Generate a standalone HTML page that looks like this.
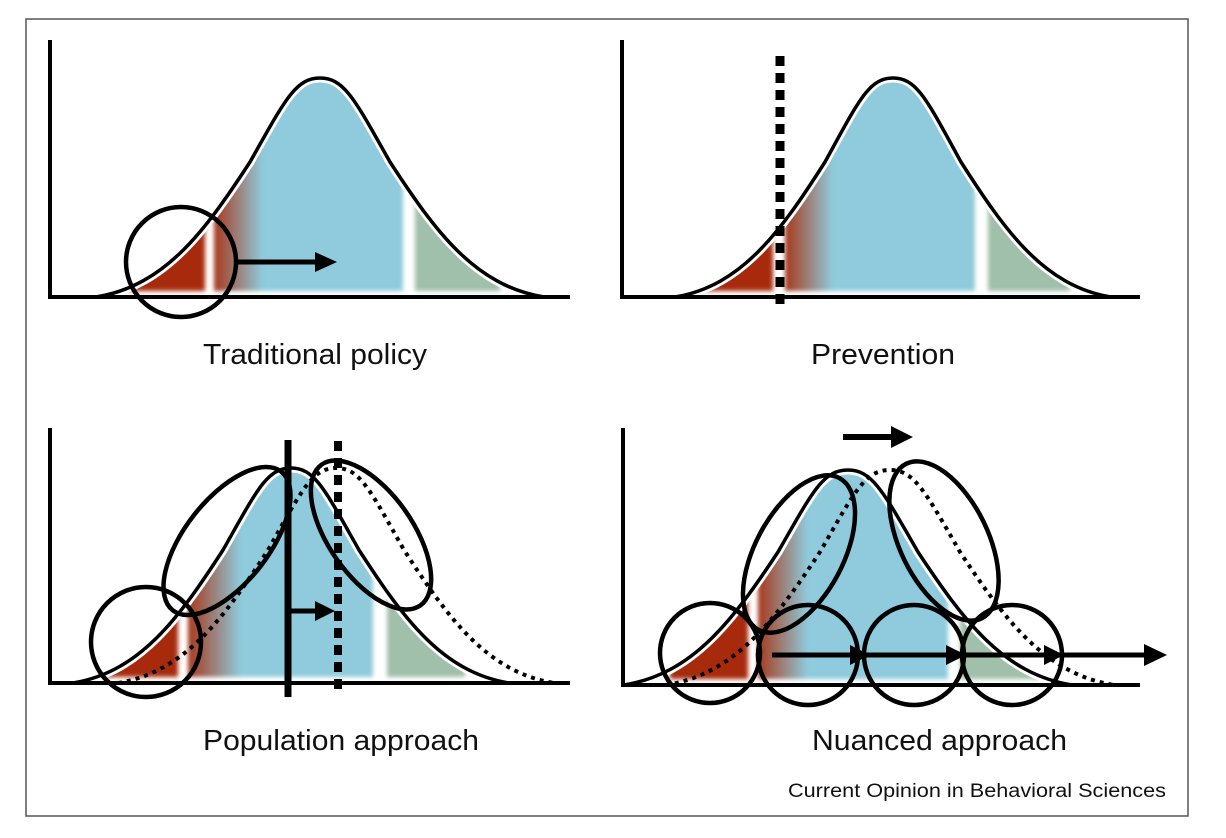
<!DOCTYPE html>
<html><head><meta charset="utf-8"><style>
html,body{margin:0;padding:0;background:#fff;}
svg{display:block;}
text{font-family:"Liberation Sans",Arial,sans-serif;fill:#111;}
</style></head><body>
<svg width="1226" height="838" viewBox="0 0 1226 838" xmlns="http://www.w3.org/2000/svg">
<defs>
<linearGradient id="rb" x1="0" y1="0" x2="1" y2="0"><stop offset="0" stop-color="#a8391c"/><stop offset="1" stop-color="#8fcbdc"/></linearGradient>
<filter id="bl" x="-5%" y="-5%" width="110%" height="110%"><feGaussianBlur stdDeviation="2"/></filter>
<clipPath id="c1"><path d="M96,297 C165,286 205,231 250,162 C285,100 295.5,78 320,78 C344.5,78 355,100 390,162 C435,231 475,286 544,297Z"/></clipPath>
<clipPath id="c2"><path d="M675,297 C742,286 781,231 825,162 C859,100 869,78 893,78 C917,78 927,100 961,162 C1005,231 1044,286 1111,297Z"/></clipPath>
<clipPath id="c3"><path d="M73,683 C140,672 179,618 223,550 C257,490 267,468 291,468 C315,468 325,490 359,550 C403,618 442,672 509,683Z"/></clipPath>
<clipPath id="c4"><path d="M624,685 C693,674 733,620 778,552 C813,491 823,470 848,470 C872,470 883,491 918,552 C963,620 1003,674 1072,685Z"/></clipPath>
</defs>
<rect x="26" y="19" width="1162" height="797" fill="none" stroke="#555" stroke-width="1.5"/>

<!-- Panel 1 -->
<g clip-path="url(#c1)"><g filter="url(#bl)">
<rect x="120" y="60" width="85" height="231" fill="#a82a08"/>
<rect x="214" y="60" width="49" height="231" fill="url(#rb)"/>
<rect x="262" y="60" width="141" height="231" fill="#8fcbdc"/>
<rect x="415" y="60" width="85" height="231" fill="#a0c0ab"/>
</g></g>
<path d="M96,297 C165,286 205,231 250,162 C285,100 295.5,78 320,78 C344.5,78 355,100 390,162 C435,231 475,286 544,297" fill="none" stroke="#fff" stroke-width="9"/>
<path d="M96,297 C165,286 205,231 250,162 C285,100 295.5,78 320,78 C344.5,78 355,100 390,162 C435,231 475,286 544,297" fill="none" stroke="#000" stroke-width="3.5"/>
<path d="M50,40 V297 H570" fill="none" stroke="#000" stroke-width="4"/>
<circle cx="181" cy="262" r="55" fill="none" stroke="#000" stroke-width="4.5"/>
<line x1="236" y1="262" x2="318" y2="262" stroke="#000" stroke-width="5"/>
<polygon points="315,252 337,262 315,272" fill="#000"/>
<text x="203" y="364" font-size="29" textLength="224" lengthAdjust="spacingAndGlyphs">Traditional policy</text>

<!-- Panel 2 -->
<g clip-path="url(#c2)"><g filter="url(#bl)">
<rect x="690" y="60" width="83" height="231" fill="#a82a08"/>
<rect x="785" y="60" width="48" height="231" fill="url(#rb)"/>
<rect x="832" y="60" width="143" height="231" fill="#8fcbdc"/>
<rect x="988" y="60" width="82" height="231" fill="#a0c0ab"/>
</g></g>
<path d="M675,297 C742,286 781,231 825,162 C859,100 869,78 893,78 C917,78 927,100 961,162 C1005,231 1044,286 1111,297" fill="none" stroke="#fff" stroke-width="9"/>
<path d="M675,297 C742,286 781,231 825,162 C859,100 869,78 893,78 C917,78 927,100 961,162 C1005,231 1044,286 1111,297" fill="none" stroke="#000" stroke-width="3.5"/>
<path d="M622,40 V297 H1140" fill="none" stroke="#000" stroke-width="4"/>
<line x1="780" y1="56" x2="780" y2="308" stroke="#000" stroke-width="9" stroke-dasharray="10,7"/>
<text x="811" y="364" font-size="29" textLength="144" lengthAdjust="spacingAndGlyphs">Prevention</text>

<!-- Panel 3 -->
<g clip-path="url(#c3)"><g filter="url(#bl)">
<rect x="100" y="440" width="78" height="237" fill="#a82a08"/>
<rect x="188" y="440" width="53" height="237" fill="url(#rb)"/>
<rect x="240" y="440" width="133" height="237" fill="#8fcbdc"/>
<rect x="387" y="440" width="78" height="237" fill="#a0c0ab"/>
</g></g>
<path d="M73,683 C140,672 179,618 223,550 C257,490 267,468 291,468 C315,468 325,490 359,550 C403,618 442,672 509,683" fill="none" stroke="#fff" stroke-width="9"/>
<path d="M73,683 C140,672 179,618 223,550 C257,490 267,468 291,468 C315,468 325,490 359,550 C403,618 442,672 509,683" fill="none" stroke="#000" stroke-width="3.5"/>
<path d="M118,683 C185,672 224,618 268,550 C302,490 312,468 336,468 C360,468 370,490 404,550 C448,618 487,672 554,683" fill="none" stroke="#000" stroke-width="4" stroke-dasharray="4,5"/>
<path d="M50,428 V683 H570" fill="none" stroke="#000" stroke-width="4"/>
<line x1="288" y1="440" x2="288" y2="697" stroke="#000" stroke-width="7"/>
<line x1="338" y1="441" x2="338" y2="695" stroke="#000" stroke-width="8" stroke-dasharray="10,7"/>
<line x1="290" y1="611" x2="318" y2="611" stroke="#000" stroke-width="5"/>
<polygon points="315,601 335,611 315,621" fill="#000"/>
<circle cx="146" cy="642" r="55" fill="none" stroke="#000" stroke-width="4.5"/>
<ellipse cx="227" cy="541" rx="42" ry="88" transform="rotate(38 227 541)" fill="none" stroke="#000" stroke-width="4.5"/>
<ellipse cx="371" cy="535" rx="42" ry="86" transform="rotate(-35 371 535)" fill="none" stroke="#000" stroke-width="4.5"/>
<text x="203" y="750" font-size="29" textLength="276" lengthAdjust="spacingAndGlyphs">Population approach</text>

<!-- Panel 4 -->
<g clip-path="url(#c4)"><g filter="url(#bl)">
<rect x="670" y="440" width="78" height="239" fill="#a82a08"/>
<rect x="758" y="440" width="50" height="239" fill="url(#rb)"/>
<rect x="806" y="440" width="142" height="239" fill="#8fcbdc"/>
<rect x="960" y="440" width="80" height="239" fill="#a0c0ab"/>
</g></g>
<path d="M624,685 C693,674 733,620 778,552 C813,491 823,470 848,470 C872,470 883,491 918,552 C963,620 1003,674 1072,685" fill="none" stroke="#fff" stroke-width="9"/>
<path d="M624,685 C693,674 733,620 778,552 C813,491 823,470 848,470 C872,470 883,491 918,552 C963,620 1003,674 1072,685" fill="none" stroke="#000" stroke-width="3.5"/>
<path d="M666,685 C735,674 775,620 820,552 C855,491 865,470 890,470 C914,470 925,491 960,552 C1005,620 1045,674 1114,685" fill="none" stroke="#000" stroke-width="4" stroke-dasharray="4,5"/>
<path d="M623,428 V685 H1140" fill="none" stroke="#000" stroke-width="4"/>
<circle cx="710" cy="653" r="50" fill="none" stroke="#000" stroke-width="4.5"/>
<circle cx="808" cy="655" r="50" fill="none" stroke="#000" stroke-width="4.5"/>
<circle cx="914" cy="655" r="50" fill="none" stroke="#000" stroke-width="4.5"/>
<circle cx="1012" cy="655" r="50" fill="none" stroke="#000" stroke-width="4.5"/>
<ellipse cx="799" cy="554" rx="44" ry="86" transform="rotate(28 799 554)" fill="none" stroke="#000" stroke-width="4.5"/>
<ellipse cx="944" cy="541" rx="44" ry="86" transform="rotate(-26 944 541)" fill="none" stroke="#000" stroke-width="4.5"/>
<line x1="772" y1="655" x2="1150" y2="655" stroke="#000" stroke-width="5"/>
<polygon points="850,645 870,655 850,665" fill="#000"/>
<polygon points="946,645 966,655 946,665" fill="#000"/>
<polygon points="1044,645 1064,655 1044,665" fill="#000"/>
<polygon points="1144,644 1167,655 1144,666" fill="#000"/>
<line x1="843" y1="437" x2="895" y2="437" stroke="#000" stroke-width="6"/>
<polygon points="891,426 913,437 891,448" fill="#000"/>
<text x="812" y="750" font-size="29" textLength="255" lengthAdjust="spacingAndGlyphs">Nuanced approach</text>

<text x="788" y="797" font-size="19" textLength="378" lengthAdjust="spacingAndGlyphs">Current Opinion in Behavioral Sciences</text>
</svg>
</body></html>
